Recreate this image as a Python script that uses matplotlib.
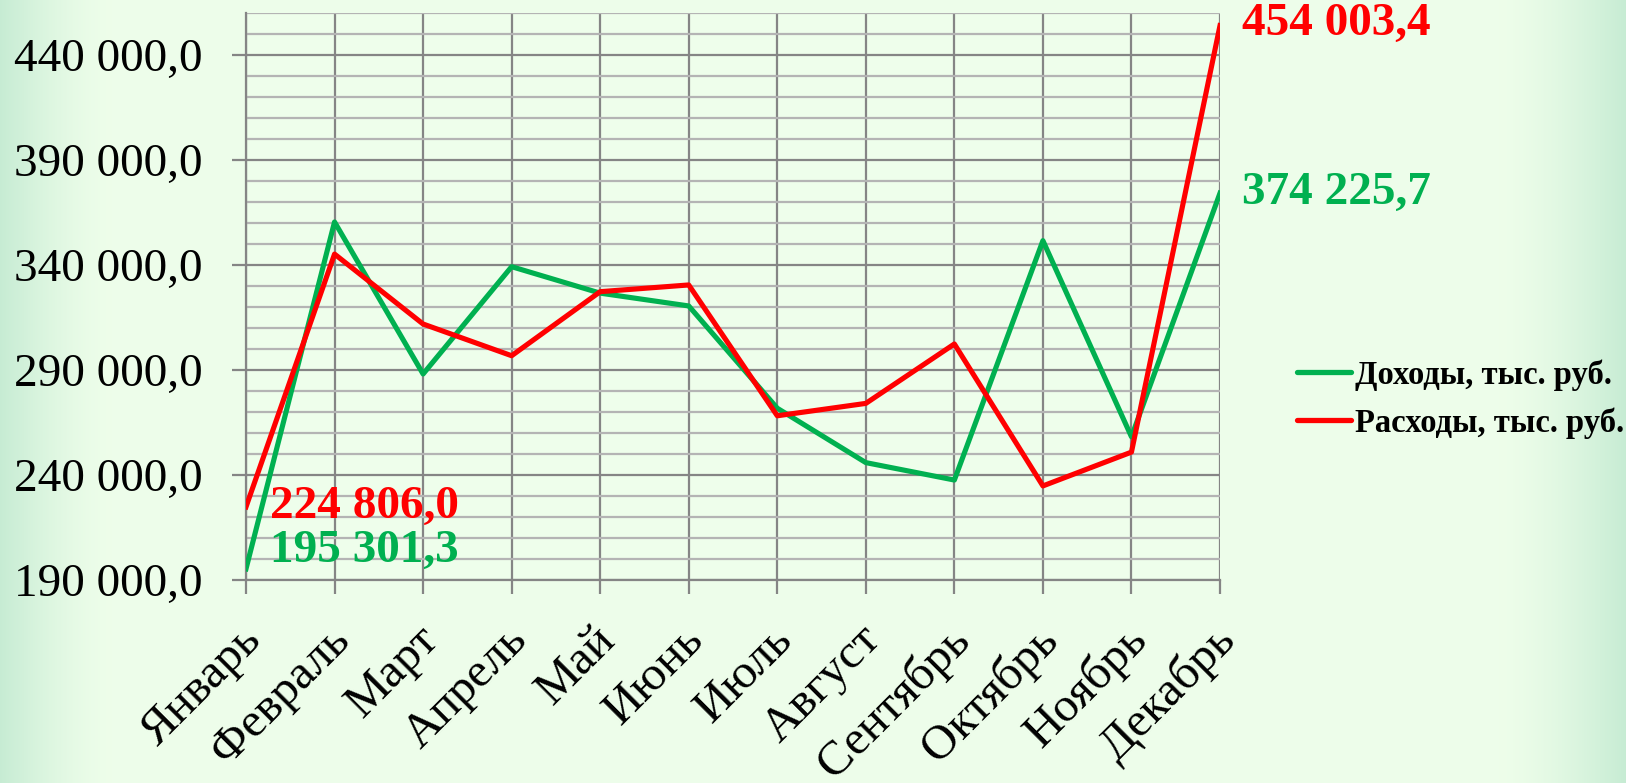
import numpy as np
import matplotlib
matplotlib.use("Agg")
import matplotlib.pyplot as plt
from matplotlib.ticker import FixedLocator, FuncFormatter
from matplotlib.transforms import ScaledTranslation

# Data
maanden = ["Январь", "Февраль", "Март", "Апрель", "Май", "Июнь",
           "Июль", "Август", "Сентябрь", "Октябрь", "Ноябрь", "Декабрь"]

dohody = [195301.3, 360500, 288100, 339200, 326600, 320500,
          271800, 245900, 237600, 351600, 258200, 374225.7]

rashody = [224806.0, 345200, 311900, 296800, 327300, 330500,
           268200, 274100, 302400, 234800, 250900, 454003.4]

naam_dohody = "Доходы, тыс. руб."
naam_rashody = "Расходы, тыс. руб."

y_ticks = [190000, 240000, 290000, 340000, 390000, 440000]

groen = "#00B050"
rood = "#FF0000"

plt.rcParams["font.family"] = ["Liberation Serif", "DejaVu Serif"]


def getal(v):
    # 454003.4 -> "454 003,4"
    return f"{v:,.1f}".replace(",", " ").replace(".", ",")


fig = plt.figure(figsize=(16.26, 7.83), dpi=100)

# achtergrond met groene randen
bg = fig.add_axes([0, 0, 1, 1], zorder=-10)
x = np.linspace(0, 1, 800)
links = np.clip(1 - x / 0.07, 0, 1) ** 1.5
rechts = np.clip((x - 0.92) / 0.08, 0, 1) ** 1.5
t = np.maximum(links, rechts)[None, :]
kleur_mid = np.array([0.933, 0.996, 0.918])
kleur_rand = np.array([0.78, 0.925, 0.83])
img = kleur_mid[None, None, :] * (1 - t[..., None]) + kleur_rand[None, None, :] * t[..., None]
bg.imshow(img, aspect="auto", extent=[0, 1, 0, 1])
bg.axis("off")

ax = fig.add_axes([246 / 1626, 1 - 580 / 783, (1220 - 246) / 1626, (580 - 13) / 783])
ax.set_facecolor("#EEFEEB")

xpos = np.arange(len(maanden))
ax.plot(xpos, dohody, color=groen, lw=3.7, label=naam_dohody, zorder=3)
ax.plot(xpos, rashody, color=rood, lw=3.7, label=naam_rashody, zorder=4)

ax.set_xlim(0, 11)
ax.set_ylim(190000, 460000)

ax.yaxis.set_major_locator(FixedLocator(y_ticks))
ax.yaxis.set_minor_locator(FixedLocator(np.arange(190000, 460001, 10000)))
ax.yaxis.set_major_formatter(FuncFormatter(lambda v, p: getal(v)))

ax.grid(True, which="major", axis="both", color="#858585", lw=1.6, zorder=1)
ax.grid(True, which="minor", axis="y", color="#B4B4B4", lw=1.6, zorder=0)
ax.set_axisbelow(True)

for s in ["top", "right"]:
    ax.spines[s].set_visible(False)
for s in ["left", "bottom"]:
    ax.spines[s].set_color("#858585")
    ax.spines[s].set_linewidth(1.6)

ax.tick_params(axis="y", which="major", length=10, width=1.6, color="#858585",
               labelsize=34, pad=21)
ax.tick_params(axis="y", which="minor", length=0)
ax.set_xticks(xpos)
ax.set_xticklabels(maanden, rotation=45, ha="right", va="center", rotation_mode="anchor")
ax.tick_params(axis="x", length=10, width=1.6, color="#858585", labelsize=35, pad=28)
# maanden iets naar rechts schuiven
for lbl in ax.get_xticklabels():
    lbl.set_transform(lbl.get_transform() + ScaledTranslation(6 / 72, 0, fig.dpi_scale_trans))

# waarden bij begin en eind
ax.annotate(getal(rashody[0]), (0, rashody[0]),
            xytext=(17, 0), textcoords="offset points", color=rood,
            fontsize=34, fontweight="bold", va="center", ha="left", zorder=5)
ax.annotate(getal(dohody[0]), (0, dohody[0]),
            xytext=(17, 13), textcoords="offset points", color=groen,
            fontsize=34, fontweight="bold", va="center", ha="left", zorder=5)
ax.annotate(getal(rashody[-1]), (11, rashody[-1]),
            xytext=(16, 1), textcoords="offset points", color=rood,
            fontsize=34, fontweight="bold", va="center", ha="left", annotation_clip=False)
ax.annotate(getal(dohody[-1]), (11, dohody[-1]),
            xytext=(16, 0), textcoords="offset points", color=groen,
            fontsize=34, fontweight="bold", va="center", ha="left", annotation_clip=False)

leg = fig.legend(loc="center left", bbox_to_anchor=(1297 / 1626, 1 - 399 / 783),
                 frameon=False, prop={"weight": "bold", "size": 23.5},
                 handlelength=1.65, handletextpad=0.12, labelspacing=0.5,
                 borderpad=0, borderaxespad=0)
for h in leg.legend_handles:
    h.set_linewidth(3.8)
    h.set_solid_capstyle("round")

fig.savefig("out.png", dpi=100)
